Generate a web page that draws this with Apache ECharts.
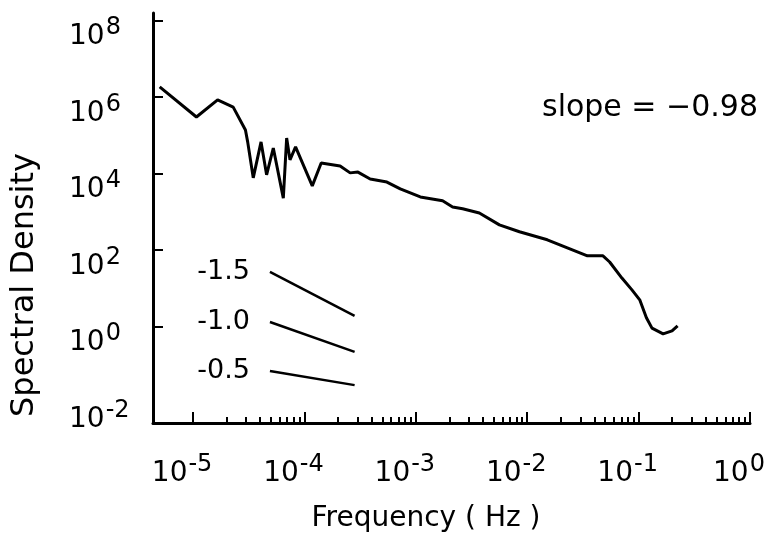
<!DOCTYPE html>
<html>
<head>
<meta charset="utf-8">
<script src="https://cdn.jsdelivr.net/npm/echarts@6/dist/echarts.min.js"></script>
<style>
  html, body { margin: 0; padding: 0; background: #fff; }
  #spectrum { width: 768px; height: 542px; }
</style>
</head>
<body>
<div id="spectrum"></div>
<script>
// values are log10 exponents (axes are log10 of frequency / spectral density)
const freqExp = [-5.30, -4.97, -4.78, -4.64, -4.53, -4.51, -4.46, -4.39, -4.34, -4.28,
  -4.19, -4.16, -4.13, -4.08, -3.93, -3.85, -3.68, -3.59, -3.52, -3.41,
  -3.26, -3.14, -2.96, -2.76, -2.67, -2.58, -2.43, -2.25, -2.07, -1.82,
  -1.64, -1.46, -1.32, -1.26, -1.15, -1.06, -0.99, -0.93, -0.88, -0.78,
  -0.70, -0.65];
const densityExp = [6.27, 5.48, 5.93, 5.74, 5.14, 4.83, 3.89, 4.83, 3.97, 4.67,
  3.36, 4.93, 4.36, 4.70, 3.68, 4.28, 4.20, 4.02, 4.04, 3.86,
  3.78, 3.60, 3.39, 3.29, 3.13, 3.08, 2.97, 2.66, 2.48, 2.27,
  2.06, 1.85, 1.85, 1.69, 1.27, 0.96, 0.70, 0.23, -0.04, -0.19,
  -0.11, 0.02];

// reference slope segments (start / end)
const slopeFreqExp = [-4.31, -3.55];
const slopeNames = ['-1.5', '-1.0', '-0.5'];
const slopeDensityExp = [
  [1.43, 0.28],
  [0.12, -0.66],
  [-1.16, -1.53],
];

const xTickExp = [-5, -4, -3, -2, -1, 0];
const yTickExp = [0, 2, 4, 6, 8];
const yLabelExp = [-2, 0, 2, 4, 6, 8];
const slopeText = 'slope = \u22120.98';

const FONT = 'DejaVu Sans';

// minor log ticks 2..9 inside each decade
const minorTicks = [];
for (let n = -5; n < 0; n++) {
  for (let k = 2; k <= 9; k++) {
    minorTicks.push(n + Math.log10(k));
  }
}

const powerRich = {
  b: { fontSize: 28, fontFamily: FONT, color: '#000', verticalAlign: 'bottom' },
  e: { fontSize: 24, fontFamily: FONT, color: '#000', verticalAlign: 'bottom', padding: [0, 0, 11, 1] },
};
const powerLabel = (v) => '{b|10}{e|' + v + '}';

const chart = echarts.init(document.getElementById('spectrum'));

const series = [
  {
    name: 'spectrum',
    type: 'line',
    symbol: 'none',
    xAxisIndex: 0,
    lineStyle: { color: '#000', width: 3 },
    data: freqExp.map((f, i) => [f, densityExp[i]]),
  },
];
slopeNames.forEach((name, i) => {
  series.push({
    name: name,
    type: 'line',
    symbol: 'circle',
    symbolSize: 0.01,
    showSymbol: true,
    xAxisIndex: 0,
    lineStyle: { color: '#000', width: 2.5 },
    itemStyle: { color: '#000' },
    label: {
      show: true,
      position: 'left',
      distance: 20,
      fontSize: 27,
      fontFamily: FONT,
      color: '#000',
      formatter: (p) => (p.dataIndex === 0 ? name : ''),
    },
    data: [
      [slopeFreqExp[0], slopeDensityExp[i][0]],
      [slopeFreqExp[1], slopeDensityExp[i][1]],
    ],
  });
});

const option = {
  animation: false,
  backgroundColor: '#fff',
  grid: { left: 153, right: 18, top: 13, bottom: 119, outerBoundsMode: 'none' },
  xAxis: [
    {
      type: 'value',
      min: -5.36,
      max: 0,
      position: 'bottom',
      axisLine: { show: true, onZero: false, lineStyle: { color: '#000', width: 3 } },
      axisTick: { show: true, inside: true, length: 11, lineStyle: { color: '#000', width: 2 }, customValues: xTickExp },
      axisLabel: {
        show: true,
        margin: 26,
        customValues: xTickExp,
        formatter: powerLabel,
        rich: powerRich,
        padding: [4, 22, 0, 0],
      },
      splitLine: { show: false },
    },
    {
      type: 'value',
      min: -5.36,
      max: 0,
      position: 'bottom',
      offset: 0,
      axisLine: { show: false, onZero: false },
      axisTick: { show: true, inside: true, length: 6, lineStyle: { color: '#000', width: 2 }, customValues: minorTicks },
      axisLabel: { show: false },
      splitLine: { show: false },
    },
  ],
  yAxis: {
    type: 'value',
    min: -2.52,
    max: 8.2,
    axisLine: { show: true, onZero: false, lineStyle: { color: '#000', width: 3 } },
    axisTick: { show: true, inside: true, length: 10, lineStyle: { color: '#000', width: 2 }, customValues: yTickExp },
    axisLabel: {
      show: true,
      align: 'left',
      margin: 84,
      customValues: yLabelExp,
      formatter: powerLabel,
      rich: powerRich,
      padding: [26, 0, 0, 0],
    },
    splitLine: { show: false },
  },
  graphic: [
    {
      type: 'text',
      x: 25,
      y: 285,
      rotation: Math.PI / 2,
      style: { text: 'Spectral Density', font: '32px "DejaVu Sans"', fill: '#000', align: 'center', verticalAlign: 'middle' },
    },
    {
      type: 'text',
      x: 426,
      y: 519,
      style: { text: 'Frequency ( Hz )', font: '28px "DejaVu Sans"', fill: '#000', align: 'center', verticalAlign: 'middle' },
    },
    {
      type: 'text',
      x: 542,
      y: 108,
      style: { text: slopeText, font: '30px "DejaVu Sans"', fill: '#000', align: 'left', verticalAlign: 'middle' },
    },
  ],
  series: series,
};

chart.setOption(option);
</script>
</body>
</html>
